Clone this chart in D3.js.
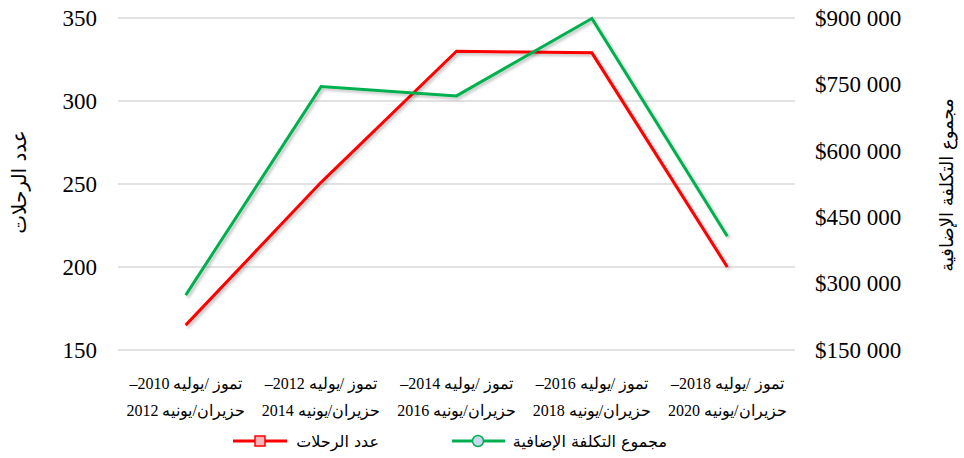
<!DOCTYPE html>
<html>
<head>
<meta charset="utf-8">
<script src="https://cdnjs.cloudflare.com/ajax/libs/d3/7.8.5/d3.min.js"></script>
<style>
  body { margin: 0; background: #fff; }
  svg { display: block; }
  .serif { font-family: 'Liberation Serif', 'Times New Roman', serif; }
</style>
</head>
<body>
<div id="chart"></div>
<script>
// data
const periodsTop = ['تموز /يوليه 2010–', 'تموز /يوليه 2012–', 'تموز /يوليه 2014–', 'تموز /يوليه 2016–', 'تموز /يوليه 2018–'];
const periodsBottom = ['حزيران/يونيه 2012', 'حزيران/يونيه 2014', 'حزيران/يونيه 2016', 'حزيران/يونيه 2018', 'حزيران/يونيه 2020'];
const trips = [165, 251, 330, 329, 200];
const extraCost = [274000, 745000, 724000, 899000, 407000];
const leftTicks = [150, 200, 250, 300, 350];
const rightTicks = [150000, 300000, 450000, 600000, 750000, 900000];

const width = 964, height = 458;
const plot = { left: 118, right: 795, top: 18, bottom: 350 };
const sans = 'DejaVu Sans, sans-serif';

const svg = d3.select('#chart').append('svg')
    .attr('width', width)
    .attr('height', height);

// soft shadow under the lines
const filter = svg.append('defs').append('filter')
    .attr('id', 'shadow')
    .attr('x', '-10%').attr('y', '-10%')
    .attr('width', '120%').attr('height', '120%');
filter.append('feDropShadow')
    .attr('dx', 2).attr('dy', 2)
    .attr('stdDeviation', 1.5)
    .attr('flood-color', '#000')
    .attr('flood-opacity', 0.25);

const x = d3.scalePoint()
    .domain(d3.range(periodsTop.length))
    .range([plot.left, plot.right])
    .padding(0.5);

const yLeft = d3.scaleLinear().domain([150, 350]).range([plot.bottom, plot.top]);
const yRight = d3.scaleLinear().domain([150000, 900000]).range([plot.bottom, plot.top]);

const locale = d3.formatLocale({ decimal: '.', thousands: ' ', grouping: [3], currency: ['$', ''] });
const fmtMoney = locale.format('$,');

// gridlines (left axis)
svg.append('g')
    .selectAll('line')
    .data(leftTicks)
    .join('line')
    .attr('x1', plot.left)
    .attr('x2', plot.right)
    .attr('y1', d => yLeft(d))
    .attr('y2', d => yLeft(d))
    .style('stroke', '#d9d9d9')
    .style('stroke-width', 1.5);

// left axis labels
const leftAxis = svg.append('g')
    .attr('transform', `translate(${plot.left},0)`)
    .call(d3.axisLeft(yLeft).tickValues(leftTicks).tickSize(0).tickPadding(21));
leftAxis.attr('font-family', null).attr('font-size', null);
leftAxis.select('.domain').remove();
leftAxis.selectAll('text')
    .attr('class', 'serif')
    .style('font-size', '23px')
    .style('fill', '#000');

// right axis labels
const rightAxis = svg.append('g')
    .attr('transform', `translate(${plot.right},0)`)
    .call(d3.axisRight(yRight).tickValues(rightTicks).tickFormat(fmtMoney).tickSize(0).tickPadding(20));
rightAxis.attr('font-family', null).attr('font-size', null);
rightAxis.select('.domain').remove();
rightAxis.selectAll('text')
    .attr('class', 'serif')
    .style('font-size', '23px')
    .style('fill', '#000');

// category labels, two lines each
const xLabels = svg.append('g');
periodsTop.forEach((t, i) => {
    const txt = xLabels.append('text')
        .attr('class', 'serif')
        .attr('x', x(i))
        .attr('text-anchor', 'middle')
        .attr('direction', 'rtl')
        .style('font-size', '16px')
        .style('fill', '#000');
    txt.append('tspan').attr('x', x(i)).attr('y', 389).text(t);
    txt.append('tspan').attr('x', x(i)).attr('y', 416).text(periodsBottom[i]);
});

// lines
const lineTrips = d3.line().x((d, i) => x(i)).y(d => yLeft(d));
const lineCost = d3.line().x((d, i) => x(i)).y(d => yRight(d));

svg.append('path')
    .datum(trips)
    .attr('d', lineTrips)
    .attr('filter', 'url(#shadow)')
    .style('fill', 'none')
    .style('stroke', '#ff0000')
    .style('stroke-width', 3);

svg.append('path')
    .datum(extraCost)
    .attr('d', lineCost)
    .attr('filter', 'url(#shadow)')
    .style('fill', 'none')
    .style('stroke', '#00b050')
    .style('stroke-width', 3);

// axis titles
svg.append('text')
    .attr('transform', 'translate(26,182) rotate(-90)')
    .attr('text-anchor', 'middle')
    .attr('direction', 'rtl')
    .style('font-family', sans)
    .style('font-size', '20px')
    .style('fill', '#000')
    .text('عدد الرحلات');

svg.append('text')
    .attr('transform', 'translate(953,185) rotate(-90)')
    .attr('text-anchor', 'middle')
    .attr('direction', 'rtl')
    .style('font-family', sans)
    .style('font-size', '18px')
    .style('fill', '#000')
    .text('مجموع التكلفة الإضافية');

// legend
const legend = svg.append('g');

legend.append('line')
    .attr('x1', 233).attr('x2', 287).attr('y1', 441).attr('y2', 441)
    .style('stroke', '#ff0000').style('stroke-width', 3);
legend.append('rect')
    .attr('x', 255).attr('y', 436).attr('width', 10).attr('height', 10)
    .style('fill', '#f4b6b6').style('stroke', '#ff0000').style('stroke-width', 1.5);
legend.append('text')
    .attr('x', 379).attr('y', 447)
    .attr('text-anchor', 'start')
    .attr('direction', 'rtl')
    .style('font-family', sans)
    .style('font-size', '16px')
    .style('fill', '#000')
    .text('عدد الرحلات');

legend.append('line')
    .attr('x1', 452).attr('x2', 505).attr('y1', 441).attr('y2', 441)
    .style('stroke', '#00b050').style('stroke-width', 3);
legend.append('circle')
    .attr('cx', 478).attr('cy', 441).attr('r', 5.5)
    .style('fill', '#c9d8ee').style('stroke', '#00b050').style('stroke-width', 1.5);
legend.append('text')
    .attr('x', 667).attr('y', 447)
    .attr('text-anchor', 'start')
    .attr('direction', 'rtl')
    .style('font-family', sans)
    .style('font-size', '16px')
    .style('fill', '#000')
    .text('مجموع التكلفة الإضافية');
</script>
</body>
</html>
